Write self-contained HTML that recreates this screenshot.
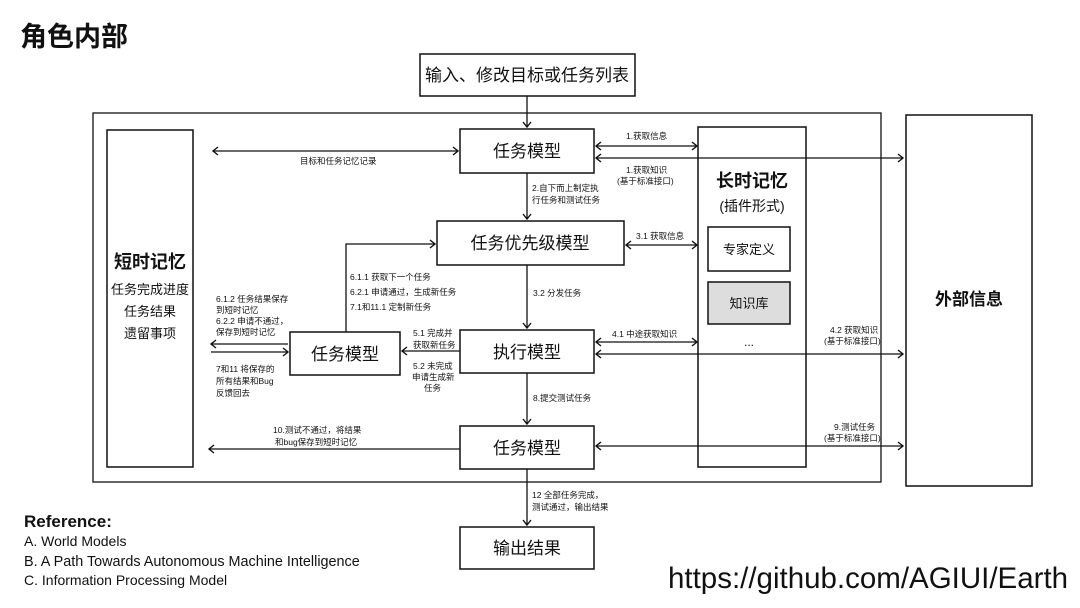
<!DOCTYPE html>
<html><head><meta charset="utf-8"><style>
html,body{margin:0;padding:0;background:#fff;width:1080px;height:608px;overflow:hidden}
svg text{font-family:"Liberation Sans","Noto Sans CJK SC",sans-serif;fill:#111}
</style></head><body>
<svg width="1080" height="608" viewBox="0 0 1080 608" xmlns="http://www.w3.org/2000/svg">
<defs>
<marker id="a" markerWidth="10" markerHeight="10" refX="8" refY="5" orient="auto-start-reverse" markerUnits="userSpaceOnUse">
<path d="M3,1 L8,5 L3,9" fill="none" stroke="#111" stroke-width="1.4"/></marker>
</defs>
<g fill="none" stroke="#111" stroke-width="1.5">
<rect x="93" y="113" width="788" height="369" stroke-width="1.3"/>
<rect x="107" y="130" width="86" height="337"/>
<rect x="698" y="127" width="108" height="340"/>
<rect x="906" y="115" width="126" height="371"/>
<rect x="420" y="54" width="215" height="42"/>
<rect x="460" y="129" width="134" height="44"/>
<rect x="437" y="221" width="187" height="44"/>
<rect x="290" y="332" width="110" height="43"/>
<rect x="460" y="330" width="134" height="43"/>
<rect x="460" y="426" width="134" height="43"/>
<rect x="460" y="527" width="134" height="42"/>
<rect x="708" y="227" width="82" height="44"/>
<rect x="708" y="282" width="82" height="42" fill="#ddd"/>
</g>
<g stroke="#111" stroke-width="1.3" fill="none">
<line x1="527" y1="96" x2="527" y2="127" marker-end="url(#a)"/>
<line x1="213" y1="151" x2="458" y2="151" marker-start="url(#a)" marker-end="url(#a)"/>
<line x1="596" y1="146" x2="697" y2="146" marker-start="url(#a)" marker-end="url(#a)"/>
<line x1="596" y1="158" x2="903" y2="158" marker-start="url(#a)" marker-end="url(#a)"/>
<line x1="527" y1="173" x2="527" y2="219" marker-end="url(#a)"/>
<line x1="626" y1="245" x2="697" y2="245" marker-start="url(#a)" marker-end="url(#a)"/>
<line x1="527" y1="265" x2="527" y2="328" marker-end="url(#a)"/>
<line x1="596" y1="342" x2="697" y2="342" marker-start="url(#a)" marker-end="url(#a)"/>
<line x1="596" y1="354" x2="903" y2="354" marker-start="url(#a)" marker-end="url(#a)"/>
<line x1="460" y1="351" x2="402" y2="351" marker-end="url(#a)"/>
<line x1="288" y1="344" x2="211" y2="344" marker-end="url(#a)"/>
<line x1="211" y1="352" x2="288" y2="352" marker-end="url(#a)"/>
<polyline points="346,332 346,244 435,244" marker-end="url(#a)"/>
<line x1="527" y1="373" x2="527" y2="424" marker-end="url(#a)"/>
<line x1="596" y1="446" x2="903" y2="446" marker-start="url(#a)" marker-end="url(#a)"/>
<line x1="460" y1="449" x2="209" y2="449" marker-end="url(#a)"/>
<line x1="527" y1="469" x2="527" y2="525" marker-end="url(#a)"/>
</g>
<text x="20" y="46" font-size="27" font-weight="bold">角色内部</text>
<g font-size="17" text-anchor="middle">
<text x="527" y="81">输入、修改目标或任务列表</text>
<text x="527" y="157">任务模型</text>
<text x="530" y="249">任务优先级模型</text>
<text x="345" y="360">任务模型</text>
<text x="527" y="358">执行模型</text>
<text x="527" y="454">任务模型</text>
<text x="527" y="554">输出结果</text>
<text x="150" y="268" font-weight="bold" font-size="18">短时记忆</text>
<text x="150" y="294" font-size="13">任务完成进度</text>
<text x="150" y="316" font-size="13">任务结果</text>
<text x="150" y="338" font-size="13">遗留事项</text>
<text x="752" y="187" font-weight="bold" font-size="18">长时记忆</text>
<text x="752" y="211" font-size="14">(插件形式)</text>
<text x="749" y="254" font-size="13">专家定义</text>
<text x="749" y="308" font-size="13">知识库</text>
<text x="749" y="346" font-size="12">...</text>
<text x="969" y="305" font-weight="bold" font-size="17">外部信息</text>
</g>
<g font-size="8.5">
<text x="300" y="164">目标和任务记忆记录</text>
<text x="626" y="139">1.获取信息</text>
<text x="626" y="173">1.获取知识</text>
<text x="617" y="184">(基于标准接口)</text>
<text x="532" y="191">2.自下而上制定执</text>
<text x="532" y="203">行任务和测试任务</text>
<text x="636" y="239">3.1 获取信息</text>
<text x="533" y="296">3.2 分发任务</text>
<text x="612" y="337">4.1 中途获取知识</text>
<text x="830" y="333">4.2 获取知识</text>
<text x="824" y="344">(基于标准接口)</text>
<text x="413" y="336">5.1 完成并</text>
<text x="413" y="348">获取新任务</text>
<text x="413" y="369">5.2 未完成</text>
<text x="412" y="380">申请生成新</text>
<text x="424" y="391">任务</text>
<text x="350" y="280">6.1.1 获取下一个任务</text>
<text x="350" y="295">6.2.1 申请通过，生成新任务</text>
<text x="350" y="310">7.1和11.1 定制新任务</text>
<text x="216" y="302">6.1.2 任务结果保存</text>
<text x="216" y="313">到短时记忆</text>
<text x="216" y="324">6.2.2 申请不通过，</text>
<text x="216" y="335">保存到短时记忆</text>
<text x="216" y="372">7和11 将保存的</text>
<text x="216" y="384">所有结果和Bug</text>
<text x="216" y="396">反馈回去</text>
<text x="533" y="401">8.提交测试任务</text>
<text x="834" y="430">9.测试任务</text>
<text x="824" y="441">(基于标准接口)</text>
<text x="273" y="433">10.测试不通过，将结果</text>
<text x="275" y="445">和bug保存到短时记忆</text>
<text x="532" y="498">12 全部任务完成，</text>
<text x="532" y="510">测试通过，输出结果</text>
</g>
<text x="24" y="527" font-size="17" font-weight="bold">Reference:</text>
<text x="24" y="546" font-size="14">A. World Models</text>
<text x="24" y="566" font-size="14.4">B. A Path Towards Autonomous Machine Intelligence</text>
<text x="24" y="585" font-size="14">C. Information Processing Model</text>
<text x="668" y="588" font-size="29.5">https://github.com/AGIUI/Earth</text>
</svg>
</body></html>
